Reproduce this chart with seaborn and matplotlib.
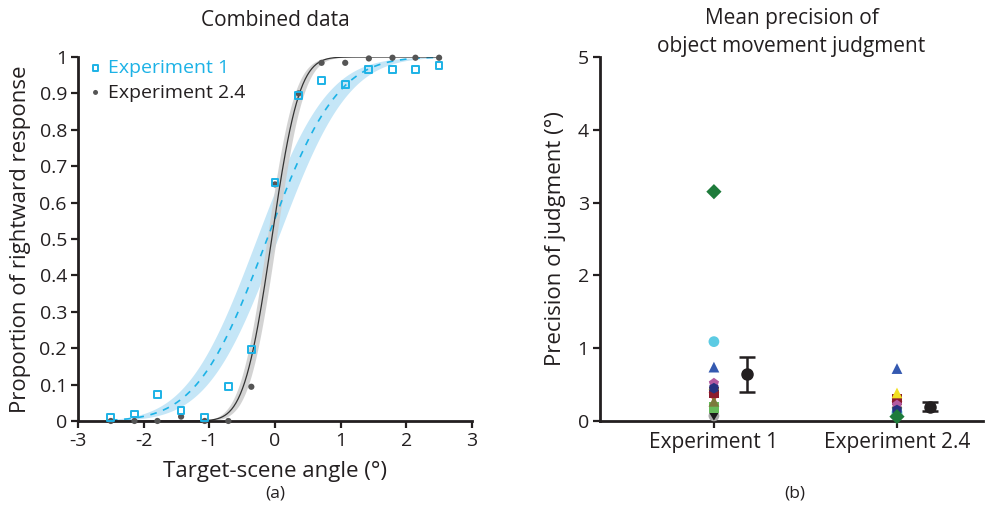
import numpy as np
import pandas as pd
import matplotlib
matplotlib.use("Agg")
import matplotlib.pyplot as plt
import seaborn as sns
from math import erf

sns.set_style("ticks")
plt.rcParams['font.family'] = ['Open Sans', 'DejaVu Sans']
plt.rcParams['axes.unicode_minus'] = False

# ---- panel (a): psychometric data ----
angles = [-2.5, -2.14, -1.79, -1.43, -1.07, -0.71, -0.36, 0.0,
          0.36, 0.71, 1.07, 1.43, 1.79, 2.14, 2.5]
exp1_prop = [0.009, 0.019, 0.072, 0.029, 0.009, 0.094, 0.197, 0.655,
             0.894, 0.935, 0.925, 0.966, 0.966, 0.966, 0.977]
exp24_prop = [0.0, 0.0, 0.0, 0.012, 0.0, 0.0, 0.094, 0.65,
              0.90, 0.984, 0.984, 0.996, 0.998, 0.998, 0.998]

# fitted cumulative-Gaussian parameters (mu, sigma, band shift)
exp1_fit = (-0.12, 0.84, 0.16)
exp24_fit = (-0.05, 0.33, 0.07)

# ---- panel (b): precision per subject ----
experiments = ['Experiment 1', 'Experiment 2.4']
subjects = ['S11', 'S10', 'S9', 'S2', 'S7', 'S8', 'S6', 'S12', 'S4', 'S5', 'S3', 'S1']
prec_exp1 = [0.07, 0.11, 0.18, 1.09, 0.32, 0.27, 0.39, 0.50, 0.52, 0.45, 0.74, 3.15]
prec_exp24 = [0.09, 0.08, 0.10, 0.12, 0.20, 0.25, 0.29, 0.385, 0.22, 0.15, 0.72, 0.06]
subj_colors = ['#a8a8a8', '#1a1a1a', '#66bb5a', '#5ccbe3', '#e6423c', '#7c7a3c',
               '#8c1c2e', '#f1e020', '#b35aa0', '#25317f', '#3459b0', '#1e7b3b']
subj_markers = ['o', 'd', 's', 'o', 'v', '^', 's', '^', 'p', 'h', '^', 'D']
prec_mean = [0.64, 0.196]
prec_err = [0.245, 0.06]

CYAN = '#1cb2e6'
DARK = '#231f20'


def cdf(z):
    return np.array([0.5 * (1 + erf(v / np.sqrt(2))) for v in z])


fig = plt.figure(figsize=(9.85, 5.08), dpi=100)
ax1 = fig.add_axes([0.0792, 0.1713, 0.3999, 0.7165])
ax2 = fig.add_axes([0.609, 0.1713, 0.389, 0.7165])

xs = np.linspace(angles[0], angles[-1], 300)
for (mu, sd, d), col, band, ls, lw in [(exp1_fit, CYAN, '#c5e6f7', (0, (4, 4)), 1.2),
                                       (exp24_fit, '#333333', '#cfcfcf', '-', 0.9)]:
    ax1.fill_between(xs, cdf((xs - mu - d) / sd), cdf((xs - mu + d) / sd),
                     color=band, lw=0, alpha=0.9 if band == '#cfcfcf' else 1, zorder=1)
    sns.lineplot(x=xs, y=cdf((xs - mu) / sd), ax=ax1, color=col, lw=lw,
                 linestyle=ls, zorder=2)

df_a = pd.DataFrame({'angle': angles * 2,
                     'prop': exp1_prop + exp24_prop,
                     'exp': ['Experiment 1'] * len(angles) + ['Experiment 2.4'] * len(angles)})
sns.scatterplot(data=df_a[df_a.exp == 'Experiment 2.4'], x='angle', y='prop', ax=ax1,
                color='#555555', s=20, marker='o', edgecolor='none', zorder=3,
                label='Experiment 2.4')
sns.scatterplot(data=df_a[df_a.exp == 'Experiment 1'], x='angle', y='prop', ax=ax1,
                facecolor='none', edgecolor=CYAN, linewidth=1.4, s=24, marker='s',
                zorder=4, label='Experiment 1')

h, l = ax1.get_legend_handles_labels()
leg = ax1.legend(h[::-1], l[::-1], loc='upper left', frameon=False, fontsize=14,
                 handlelength=0.8, handletextpad=0.25, labelspacing=0.32,
                 borderaxespad=0.0, bbox_to_anchor=(0.005, 1.015), markerscale=0.8)
for txt, c in zip(leg.get_texts(), [CYAN, DARK]):
    txt.set_color(c)

ax1.set_xlim(-3, 3)
ax1.set_ylim(0, 1)
ax1.set_xticks(range(-3, 4))
ax1.set_yticks(np.arange(0, 1.01, 0.1))
ax1.set_yticklabels(['0'] + ['%.1f' % v for v in np.arange(0.1, 0.95, 0.1)] + ['1'])
ax1.set_xlabel('Target-scene angle (°)', fontsize=16, color=DARK, labelpad=8)
ax1.set_ylabel('Proportion of rightward response', fontsize=16, color=DARK, labelpad=6)
ax1.set_title('Combined data', fontsize=15, color=DARK, pad=22)

# panel (b)
df_b = pd.DataFrame({'subject': subjects * 2,
                     'exp': [experiments[0]] * len(subjects) + [experiments[1]] * len(subjects),
                     'value': prec_exp1 + prec_exp24})
df_b['pos'] = df_b['exp'].map({e: i for i, e in enumerate(experiments)})
sns.scatterplot(data=df_b, x='pos', y='value', hue='subject', style='subject',
                palette=dict(zip(subjects, subj_colors)),
                markers=dict(zip(subjects, subj_markers)),
                s=60, edgecolor='none', ax=ax2, legend=False, zorder=3)
ax2.errorbar(np.arange(len(experiments)) + 0.18, prec_mean, yerr=prec_err, fmt='o',
             color=DARK, ms=8, capsize=6, elinewidth=1.8, capthick=1.8, zorder=4)

ax2.set_xlim(-0.623, 1.47)
ax2.set_ylim(0, 5)
ax2.set_xticks(range(len(experiments)))
ax2.set_xticklabels(experiments)
ax2.set_yticks(range(6))
ax2.set_xlabel('')
ax2.set_ylabel('Precision of judgment (°)', fontsize=16, color=DARK, labelpad=8)
ax2.set_title('Mean precision of\nobject movement judgment', fontsize=15, color=DARK, pad=3,
              linespacing=1.45)

for ax in (ax1, ax2):
    sns.despine(ax=ax)
    for s in ('left', 'bottom'):
        ax.spines[s].set_linewidth(2)
        ax.spines[s].set_color(DARK)
    ax.tick_params(direction='out', length=5, width=1.6, color=DARK,
                   labelsize=14, labelcolor=DARK, pad=3)
ax2.tick_params(axis='x', labelsize=15)
for coll in ax1.collections + ax2.collections:
    coll.set_clip_on(False)

fig.text(0.279, 1 - 494 / 508, '(a)', ha='center', va='center', fontsize=12.5, color=DARK)
fig.text(0.807, 1 - 494 / 508, '(b)', ha='center', va='center', fontsize=12.5, color=DARK)

fig.savefig('out.png', dpi=100)
